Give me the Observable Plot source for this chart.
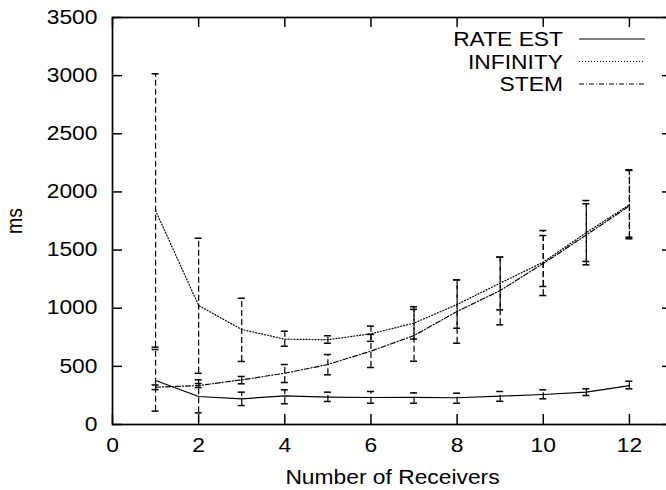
<!DOCTYPE html>
<html>
<head>
<meta charset="utf-8">
<script src="https://cdn.jsdelivr.net/npm/d3@7"></script>
<script src="https://cdn.jsdelivr.net/npm/@observablehq/plot@0.6"></script>
<style>
html, body { margin: 0; padding: 0; background: #fff; overflow: hidden; }
#wrap { width: 666px; height: 490px; overflow: hidden; }
</style>
</head>
<body>
<div id="wrap"></div>
<script>
// ---- data ----
const receivers = [1, 2, 3, 4, 5, 6, 7, 8, 9, 10, 11, 12];

const rateEst   = [378, 241, 221, 246, 235, 232, 233, 230, 244, 258, 278, 335];
const rateLo    = [115, 100, 163, 178, 198, 183, 183, 183, 200, 221, 249, 307];
const rateHi    = [645, 384, 278, 298, 278, 284, 272, 269, 284, 298, 307, 372];

const infinity  = [1840, 1023, 817, 734, 729, 780, 872, 1032, 1216, 1396, 1650, 1890];
const infLo     = [665, 440, 542, 673, 699, 715, 735, 828, 986, 1187, 1402, 1611];
const infHi     = [3016, 1602, 1086, 802, 763, 846, 1012, 1244, 1439, 1625, 1898, 2185];

const stem      = [321, 335, 384, 441, 516, 631, 765, 972, 1152, 1385, 1630, 1880];
const stemLo    = [300, 318, 350, 361, 427, 490, 544, 699, 857, 1109, 1373, 1597];
const stemHi    = [340, 352, 413, 516, 602, 775, 990, 1244, 1439, 1668, 1926, 2190];

const seriesNames = ["RATE EST", "INFINITY", "STEM"];
const xTicks = [0, 2, 4, 6, 8, 10, 12];
const yTicks = [0, 500, 1000, 1500, 2000, 2500, 3000, 3500];
const xLabel = "Number of Receivers";
const yLabel = "ms";

// ---- build table ----
const seriesData = {
  "RATE EST": [rateEst, rateLo, rateHi],
  "INFINITY": [infinity, infLo, infHi],
  "STEM": [stem, stemLo, stemHi]
};
const dashes = { "RATE EST": null, "INFINITY": "1,2", "STEM": "5,2,1,2" };
const rows = [];
for (const name of seriesNames) {
  const [v, lo, hi] = seriesData[name];
  receivers.forEach((x, i) => rows.push({ series: name, x, y: v[i], lo: lo[i], hi: hi[i] }));
}

const FS = 19.5;
const LW = 1.2;

function legendMark(index, scales, values, dims) {
  const g = d3.create("svg:g");
  const right = dims.width - dims.marginRight;
  seriesNames.forEach((name, i) => {
    const y = dims.marginTop + 22 + i * 22.5;
    g.append("text")
      .attr("transform", `translate(${right - 109},${y})`)
      .attr("text-anchor", "end")
      .attr("dy", "0.36em")
      .attr("font-size", FS)
      .attr("fill", "black")
      .text(name);
    const ln = g.append("line")
      .attr("x1", right - 93).attr("x2", right - 27)
      .attr("y1", y).attr("y2", y)
      .attr("stroke", "black").attr("stroke-width", LW);
    if (dashes[name]) ln.attr("stroke-dasharray", dashes[name]);
  });
  return g.node();
}

const marks = [
  Plot.frame({ stroke: "black", strokeWidth: 1.7 }),
  Plot.tickX(xTicks, { x: d => d, insetTop: 397, stroke: "black", strokeWidth: 1.5 }),
  Plot.tickX(xTicks, { x: d => d, insetBottom: 397, stroke: "black", strokeWidth: 1.5 }),
  Plot.tickY(yTicks, { y: d => d, insetRight: 550, stroke: "black", strokeWidth: 1.5 }),
  Plot.tickY(yTicks, { y: d => d, insetLeft: 550, stroke: "black", strokeWidth: 1.5 }),
  Plot.axisX({ ticks: xTicks, tickSize: 0, tickPadding: 14, fontSize: FS, label: null, tickFormat: d => String(d) }),
  Plot.axisY({ ticks: yTicks, tickSize: 0, tickPadding: 15, fontSize: FS, label: null, tickFormat: d => String(d) }),
  Plot.text([xLabel], { frameAnchor: "bottom", lineAnchor: "middle", textAnchor: "middle", dy: 53, fontSize: FS, text: d => d }),
  Plot.text([yLabel], { frameAnchor: "left", lineAnchor: "middle", textAnchor: "middle", dx: -98, rotate: -90, fontSize: FS, text: d => d }),
  // error bars
  Plot.ruleX(rows, { x: "x", y1: "lo", y2: "hi", stroke: "black", strokeWidth: LW, strokeDasharray: "6,3" }),
  Plot.ruleY(rows, { y: "lo", x1: "x", x2: "x", insetLeft: -3.5, insetRight: -3.5, stroke: "black", strokeWidth: 1.5 }),
  Plot.ruleY(rows, { y: "hi", x1: "x", x2: "x", insetLeft: -3.5, insetRight: -3.5, stroke: "black", strokeWidth: 1.5 }),
  // series lines
  ...seriesNames.map(name => Plot.line(rows.filter(r => r.series === name), {
    x: "x", y: "y", stroke: "black", strokeWidth: LW,
    ...(dashes[name] ? { strokeDasharray: dashes[name] } : {})
  })),
  legendMark
];

const chart = Plot.plot({
  width: 680,
  height: 490,
  marginLeft: 112,
  marginRight: 8,
  marginTop: 17,
  marginBottom: 66,
  x: { domain: [0, 13] },
  y: { domain: [0, 3500] },
  style: {
    maxWidth: "none",
    overflow: "visible",
    background: "white",
    color: "black",
    fontFamily: "'Liberation Sans', Arial, Helvetica, sans-serif",
    fontSize: FS + "px"
  },
  marks
});

// horizontally stretch all text like the reference
chart.querySelectorAll("text").forEach(t => {
  const tr = t.getAttribute("transform");
  const s = /rotate/.test(tr || "") ? " scale(1,1.17)" : " scale(1.17,1)";
  if (tr) {
    t.setAttribute("transform", tr + s);
  } else {
    const x = +(t.getAttribute("x") || 0), y = +(t.getAttribute("y") || 0);
    t.removeAttribute("x"); t.removeAttribute("y");
    t.setAttribute("transform", `translate(${x},${y})` + s);
  }
});

document.getElementById("wrap").appendChild(chart);
</script>
</body>
</html>
